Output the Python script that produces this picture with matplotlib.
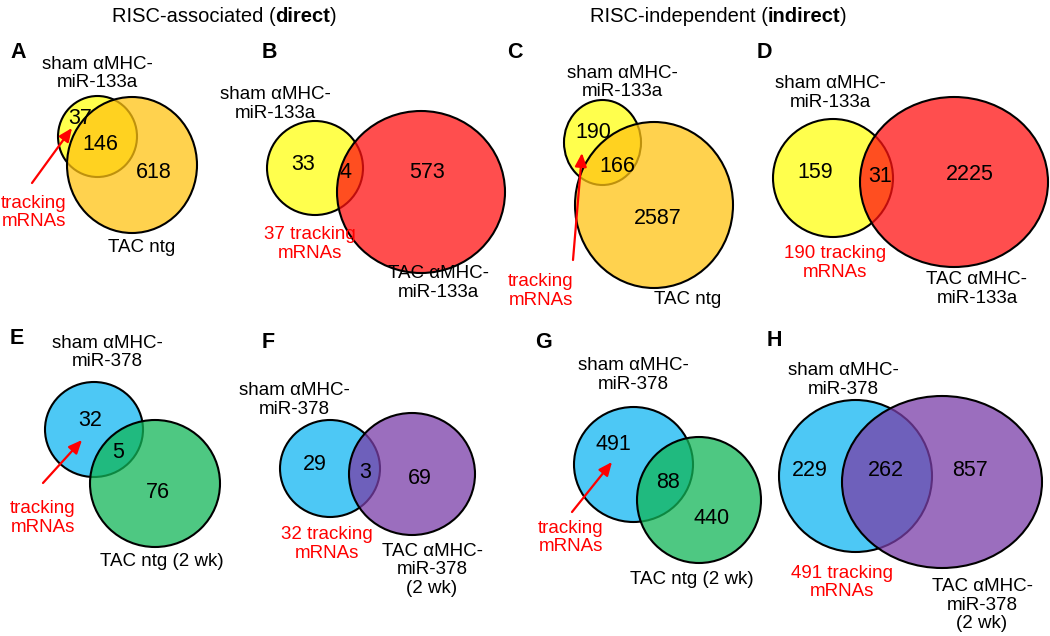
# Venn diagrams of tracking mRNAs (RISC-associated vs RISC-independent)

import matplotlib
matplotlib.use('Agg')
import matplotlib.pyplot as plt
from matplotlib.patches import Ellipse
from matplotlib import font_manager

# Data
panel_letters = ['A', 'B', 'C', 'D', 'E', 'F', 'G', 'H']
left_counts = [37, 33, 190, 159, 32, 29, 491, 229]
overlap_counts = [146, 4, 166, 31, 5, 3, 88, 262]
right_counts = [618, 573, 2587, 2225, 76, 69, 440, 857]
sham_labels = ['sham \u03b1MHC-\nmiR-133a'] * 4 + ['sham \u03b1MHC-\nmiR-378'] * 4
tac_labels = ['TAC ntg', 'TAC \u03b1MHC-\nmiR-133a', 'TAC ntg', 'TAC \u03b1MHC-\nmiR-133a',
              'TAC ntg (2 wk)', 'TAC \u03b1MHC-\nmiR-378\n(2 wk)',
              'TAC ntg (2 wk)', 'TAC \u03b1MHC-\nmiR-378\n(2 wk)']
tracking_labels = ['tracking\nmRNAs', '37 tracking\nmRNAs', 'tracking\nmRNAs', '190 tracking\nmRNAs',
                   'tracking\nmRNAs', '32 tracking\nmRNAs', 'tracking\nmRNAs', '491 tracking\nmRNAs']
section_titles = [('RISC-associated (', 'direct', ')'), ('RISC-independent (', 'indirect', ')')]

# Colours (second set is drawn on top with alpha)
YEL = '#FFFF4D'
BLUE = '#4DC8F5'
ORANGE = '#FFC312'
RED = '#FF1212'
GREEN = '#12B658'
PURPLE = '#7A3EA8'
ALPHA = 0.75
left_colors = [YEL, YEL, YEL, YEL, BLUE, BLUE, BLUE, BLUE]
right_colors = [ORANGE, RED, ORANGE, RED, GREEN, PURPLE, GREEN, PURPLE]

# Layout in pixel coordinates (x, y from top-left)
# circles: (cx, cy, w, h)
layout = [
    dict(c1=(97.5, 136.5, 79, 81), c2=(132, 165, 130, 136),
         n=[(80, 118), (100, 145), (154, 172)], sham=(97, 73.5), tac=(142, 248),
         trk=(34, 212.5), arrow=((32, 183), (72, 128)), letter=(10, 52)),
    dict(c1=(315, 168, 96, 94), c2=(421, 192, 168, 162),
         n=[(303, 164), (346, 173), (427, 173)], sham=(275, 104), tac=(438, 283),
         trk=(310, 244), arrow=None, letter=(262, 52)),
    dict(c1=(602.5, 142.5, 77, 85), c2=(654, 205, 158, 166),
         n=[(593, 132), (617, 166), (658, 218)], sham=(622, 82.5), tac=(688, 299),
         trk=(541, 291), arrow=((573, 260), (582, 153)), letter=(507, 52)),
    dict(c1=(833, 178, 120, 118), c2=(954, 182, 188, 170),
         n=[(815, 173), (880, 177), (970, 175)], sham=(830, 93), tac=(977, 289),
         trk=(835, 263), arrow=None, letter=(757, 52)),
    dict(c1=(94, 429.5, 98, 95), c2=(155, 483.5, 130, 127),
         n=[(90, 420), (118, 452), (158, 492)], sham=(107, 352.5), tac=(162, 562),
         trk=(43, 518), arrow=((43, 483), (82, 440)), letter=(10, 338)),
    dict(c1=(330, 468.5, 100, 97), c2=(412, 474, 126, 122),
         n=[(315, 465), (365, 472), (420, 479)], sham=(294, 400), tac=(432, 570),
         trk=(327, 544), arrow=None, letter=(262, 342)),
    dict(c1=(633.5, 464.5, 119, 115), c2=(699, 500, 124, 126),
         n=[(613, 445), (668, 483), (712, 518)], sham=(633, 375), tac=(692, 580),
         trk=(571, 537.5), arrow=((572, 512), (612, 462)), letter=(535, 343)),
    dict(c1=(855.5, 476, 153, 152), c2=(942, 482, 200, 172),
         n=[(810, 471), (886, 471), (970, 471)], sham=(843, 380), tac=(982, 605),
         trk=(842, 582.5), arrow=None, letter=(767, 340)),
]

avail = {f.name for f in font_manager.fontManager.ttflist}
base_font = 'Liberation Sans' if 'Liberation Sans' in avail else 'DejaVu Sans'
if 'Liberation Sans Narrow' in avail:
    title_font, title_size = 'Liberation Sans Narrow', 17
else:
    title_font, title_size = base_font, 14.5
plt.rcParams['font.family'] = [base_font, 'DejaVu Sans']

fig = plt.figure(figsize=(10.5, 6.36), dpi=100)
ax = fig.add_axes([0, 0, 1, 1])
ax.set_xlim(0, 1050)
ax.set_ylim(636, 0)
ax.axis('off')

for i, L in enumerate(layout):
    x1, y1, w1, h1 = L['c1']
    x2, y2, w2, h2 = L['c2']
    ax.add_patch(Ellipse((x1, y1), w1, h1, facecolor=left_colors[i], edgecolor='black', lw=1.5, zorder=1))
    ax.add_patch(Ellipse((x2, y2), w2, h2, facecolor=right_colors[i], edgecolor='none', alpha=ALPHA, zorder=2))
    ax.add_patch(Ellipse((x2, y2), w2, h2, facecolor='none', edgecolor='black', lw=1.5, zorder=3))

    vals = [left_counts[i], overlap_counts[i], right_counts[i]]
    for (nx, ny), v in zip(L['n'], vals):
        ax.text(nx, ny, str(v), fontsize=15.5, ha='center', va='center', zorder=5)

    ax.text(*L['sham'], sham_labels[i], fontsize=13.5, ha='center', va='center', linespacing=1.15)
    ax.text(*L['tac'], tac_labels[i], fontsize=13.5, ha='center', va='center', linespacing=1.15)
    ax.text(*L['trk'], tracking_labels[i], fontsize=13.5, ha='center', va='center',
            color='#FF0000', linespacing=1.15)
    ax.text(*L['letter'], panel_letters[i], fontsize=15.5, fontweight='bold', ha='left', va='center')

    if L['arrow'] is not None:
        tail, tip = L['arrow']
        ax.annotate('', xy=tip, xytext=tail, zorder=6,
                    arrowprops=dict(arrowstyle='-|>,head_length=0.8,head_width=0.35',
                                    color='#FF0000', lw=1.6, shrinkA=0, shrinkB=0))

# Section titles with bold part
fig.canvas.draw()
renderer = fig.canvas.get_renderer()
inv = ax.transData.inverted()
for (pre, bold, post), x0 in zip(section_titles, [112, 590]):
    x = x0
    for part, wt in [(pre, 'normal'), (bold, 'bold'), (post, 'normal')]:
        t = ax.text(x, 17, part, fontsize=title_size, fontweight=wt, family=title_font,
                    ha='left', va='center')
        bb = t.get_window_extent(renderer)
        x = inv.transform((bb.x1, bb.y0))[0]

fig.savefig('out.png', dpi=100)
